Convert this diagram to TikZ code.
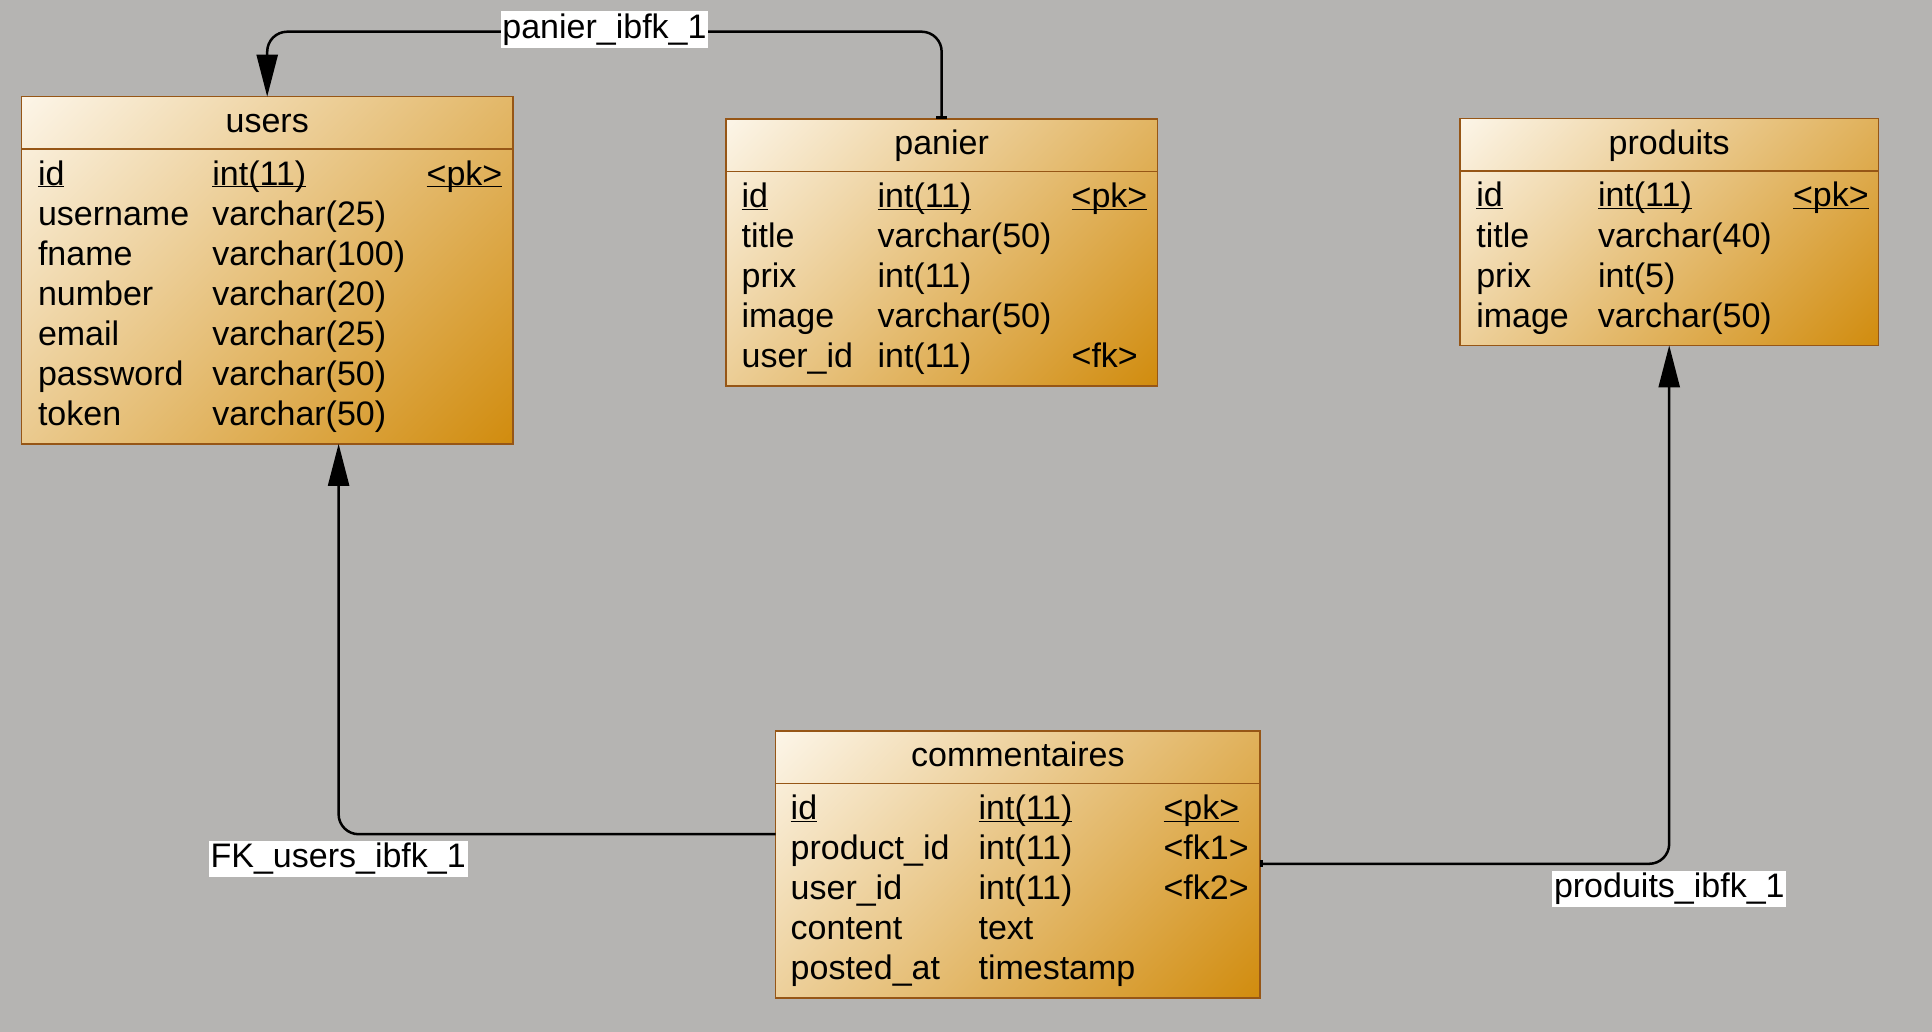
\documentclass[tikz,border=0pt]{standalone}
\usepackage{fontspec}
\setmainfont{Liberation Sans}
\usepackage{tikz}
\usetikzlibrary{shapes,arrows.meta,backgrounds}
\definecolor{canvasgray}{RGB}{181,180,178}
\definecolor{tablelight}{RGB}{255,252,246}
\definecolor{tabledark}{RGB}{206,133,0}
\definecolor{tableedge}{RGB}{150,86,22}
\pgfdeclareverticalshading{tablefade}{100bp}{color(0bp)=(tabledark); color(10bp)=(tabledark);
    color(90bp)=(tablelight); color(100bp)=(tablelight)}
\newcommand{\keyfield}[1]{\underline{\smash{#1}}}
\newcommand{\toprow}{\rule{0pt}{30pt}}
\tikzstyle{tablebox} = [draw=tableedge, line width=1.5pt, inner sep=0pt, outer sep=0pt,
    anchor=north west, font=\fontsize{34}{40.1}\selectfont]
\tikzstyle{tablehead} = [tablebox, minimum height=52.5pt, text height=24pt, text depth=5.3pt]
\tikzstyle{tablebody} = [tablebox, inner ysep=6pt, align=left]
\tikzstyle{tableshade} = [shading=tablefade, shading angle=45]
\tikzstyle{fklabel} = [fill=white, inner sep=1.8pt, text height=25pt, text depth=7.5pt,
    font=\fontsize{34}{40}\selectfont]
\tikzstyle{line} = [draw, line width=2.5pt, rounded corners=20pt,
    arrows={-Triangle[length=42pt, width=21pt]}]
\tikzstyle{tickline} = [line, arrows={Rectangle[length=3pt, width=11pt]-Triangle[length=42pt, width=21pt]}]

\begin{document}
\begin{tikzpicture}[x=1pt, y=-1pt]
    \begin{scope}[on background layer]
        \fill [canvasgray] (0,0) rectangle (1932,1032);
    \end{scope}
    \useasboundingbox (0,0) rectangle (1932,1032);
    % Place nodes
    \node [tablehead, minimum width=491.6pt] (users-head) at (21.4,96.7) {users};
    \node [tablebody, text width=491.6pt] (users-body) at (users-head.south west) {%
        \begin{tabular}{@{\hspace{16.6pt}}p{174.4pt}@{}p{214.3pt}@{}l@{}}
            \keyfield{id}\toprow & \keyfield{int(11)} & \keyfield{<pk>} \\
            username & varchar(25) & \\
            fname & varchar(100) & \\
            number & varchar(20) & \\
            email & varchar(25) & \\
            password & varchar(50) & \\
            token & varchar(50) &
        \end{tabular}};
    \node [tablehead, minimum width=431.3pt] (panier-head) at (726,119) {panier};
    \node [tablebody, text width=431.3pt] (panier-body) at (panier-head.south west) {%
        \begin{tabular}{@{\hspace{15.6pt}}p{136pt}@{}p{194.1pt}@{}l@{}}
            \keyfield{id}\toprow & \keyfield{int(11)} & \keyfield{<pk>} \\
            title & varchar(50) & \\
            prix & int(11) & \\
            image & varchar(50) & \\
            user\_id & int(11) & <fk>
        \end{tabular}};
    \node [tablehead, minimum width=418.8pt] (produits-head) at (1459.8,118.5) {produits};
    \node [tablebody, text width=418.8pt] (produits-body) at (produits-head.south west) {%
        \begin{tabular}{@{\hspace{16.5pt}}p{121.7pt}@{}p{195pt}@{}l@{}}
            \keyfield{id}\toprow & \keyfield{int(11)} & \keyfield{<pk>} \\
            title & varchar(40) & \\
            prix & int(5) & \\
            image & varchar(50) &
        \end{tabular}};
    \node [tablehead, minimum width=484.3pt] (comm-head) at (775.7,731) {commentaires};
    \node [tablebody, text width=484.3pt] (comm-body) at (comm-head.south west) {%
        \begin{tabular}{@{\hspace{15pt}}p{187.9pt}@{}p{185pt}@{}l@{}}
            \keyfield{id}\toprow & \keyfield{int(11)} & \keyfield{<pk>} \\
            product\_id & int(11) & <fk1> \\
            user\_id & int(11) & <fk2> \\
            content & text & \\
            posted\_at & timestamp &
        \end{tabular}};
    % Table shading
    \begin{scope}[on background layer]
        \shade [tableshade] (users-head.north west) rectangle (users-body.south east);
        \shade [tableshade] (panier-head.north west) rectangle (panier-body.south east);
        \shade [tableshade] (produits-head.north west) rectangle (produits-body.south east);
        \shade [tableshade] (comm-head.north west) rectangle (comm-body.south east);
    \end{scope}
    % Draw edges
    \path [tickline] (panier-head.north) |- ([yshift=65pt]users-head.north) -- (users-head.north);
    \path [line] ([yshift=-50.7pt]comm-body.north west) -| ([xshift=71.4pt]users-body.south);
    \path [line, arrows={Rectangle[length=3pt, width=7pt]-Triangle[length=42pt, width=21pt]}]
        ([yshift=-80.3pt]comm-body.north east) -| (produits-body.south);
    % Edge labels
    \node [fklabel] (panier-fk) at (604.5,29.5) {panier\_ibfk\_1};
    \node [fklabel] (users-fk) at (338.2,859.2) {FK\_users\_ibfk\_1};
    \node [fklabel] (produits-fk) at (1669.3,889) {produits\_ibfk\_1};
\end{tikzpicture}
\end{document}
